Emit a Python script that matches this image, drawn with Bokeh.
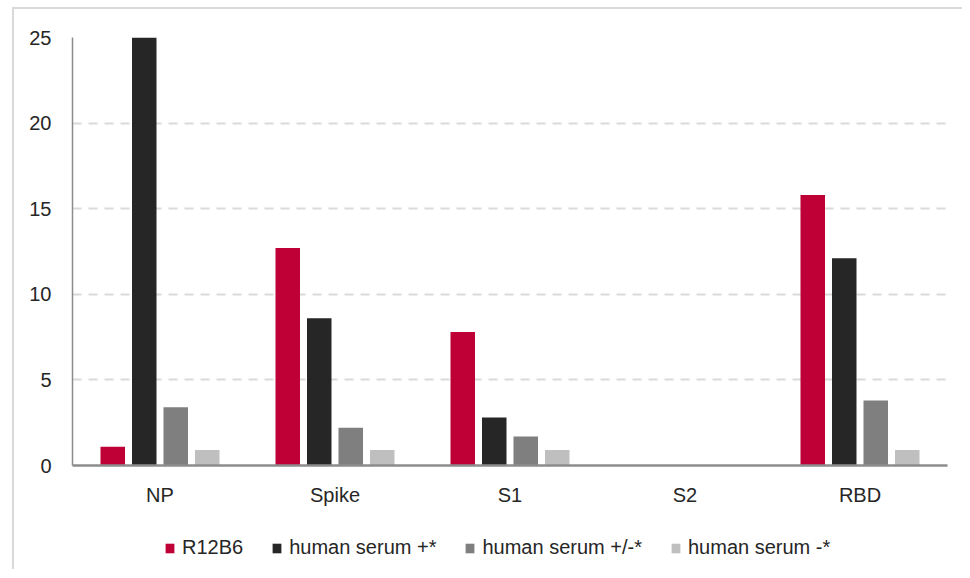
import numpy as np
from bokeh.plotting import figure
from bokeh.layouts import column
from bokeh.models import ColumnDataSource, FactorRange, Legend, LegendItem
from bokeh.transform import dodge
from bokeh.embed import file_html
from bokeh.resources import INLINE

categories = ["NP", "Spike", "S1", "S2", "RBD"]
r12b6 = [1.1, 12.7, 7.8, 0, 15.8]
serum_pos = [25, 8.6, 2.8, 0, 12.1]
serum_mid = [3.4, 2.2, 1.7, 0, 3.8]
serum_neg = [0.9, 0.9, 0.9, 0, 0.9]
series_names = ["R12B6", "human serum +*", "human serum +/-*", "human serum -*"]
y_ticks = [0, 5, 10, 15, 20, 25]

colors = ["#BE0036", "#262626", "#7F7F7F", "#BFBFBF"]
offsets = [-0.27, -0.09, 0.09, 0.27]
FONT = "Liberation Sans"

src = ColumnDataSource(dict(cat=categories, s0=r12b6, s1=serum_pos, s2=serum_mid, s3=serum_neg))

p = figure(width=948, height=500, x_range=FactorRange(factors=categories),
           y_range=(0, 25), output_backend="svg", toolbar_location=None,
           min_border_left=58, min_border_right=15, min_border_top=28, min_border_bottom=44)

for i, key in enumerate(["s0", "s1", "s2", "s3"]):
    p.vbar(x=dodge("cat", offsets[i], range=p.x_range), top=key, width=0.14,
           source=src, fill_color=colors[i], line_color=None)

p.outline_line_color = None
p.xgrid.grid_line_color = None
p.ygrid.grid_line_color = "#D9D9D9"
p.ygrid.grid_line_width = 2
p.ygrid.grid_line_dash = "9 7"
p.yaxis.ticker = y_ticks

for ax in (p.xaxis[0], p.yaxis[0]):
    ax.major_tick_line_color = None
    ax.minor_tick_line_color = None
    ax.major_label_text_font = FONT
    ax.major_label_text_font_size = "20px"
    ax.major_label_text_color = "#262626"
    ax.axis_line_color = "#8C8C8C"

p.yaxis.axis_line_width = 1.5
p.xaxis.axis_line_width = 2.5
p.yaxis.major_label_standoff = 15
p.xaxis.major_label_standoff = 12

# legend strip (frames of the column are aligned with the chart frame)
lp = figure(width=948, height=60, x_range=(0, 1), y_range=(0, 1),
            output_backend="svg", toolbar_location=None,
            x_axis_location=None, y_axis_location=None,
            min_border_left=0, min_border_right=0, min_border_top=0, min_border_bottom=0)
lp.outline_line_color = None
lp.xgrid.grid_line_color = None
lp.ygrid.grid_line_color = None
legend_rs = []
for i in range(4):
    r = lp.vbar(x=[np.nan], top=[np.nan], width=0.1, fill_color=colors[i], line_color=None)
    legend_rs.append(r)

legend = Legend(items=[LegendItem(label=series_names[i], renderers=[legend_rs[i]]) for i in range(4)],
                orientation="horizontal", location=(92, 10))
legend.label_text_font = FONT
legend.label_text_font_size = "20px"
legend.label_text_color = "#262626"
legend.glyph_width = 11
legend.glyph_height = 12
legend.label_standoff = 7
legend.spacing = 28
legend.border_line_color = None
legend.background_fill_alpha = 0
legend.margin = 0
legend.padding = 0
lp.add_layout(legend, "center")

layout = column(p, lp, spacing=0, margin=(7, 0, 0, 12),
                styles={"border-left": "2px solid #d9d9d9", "border-top": "2px solid #d9d9d9"})

open("out.html", "w").write(file_html(layout, INLINE))
